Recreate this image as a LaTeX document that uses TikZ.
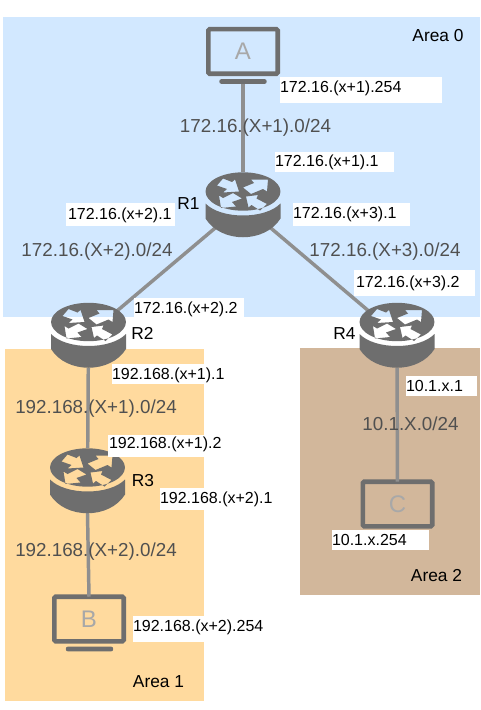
\documentclass[tikz,border=0pt]{standalone}
\usepackage{fontspec}
\setmainfont{Liberation Sans}
\usetikzlibrary{shapes.geometric}
\definecolor{areablue}{HTML}{D2E8FF}
\definecolor{areaorange}{HTML}{FFDA9E}
\definecolor{areabrown}{HTML}{D2B79B}
\definecolor{device}{HTML}{6E6E6E}
\definecolor{linkc}{HTML}{8F8F8F}
\definecolor{nettext}{HTML}{505050}
\definecolor{hostl}{HTML}{A8A8A8}
\tikzset{
  x=0.75pt,y=-0.75pt,
  link/.style={draw=linkc,line width=2.6pt},
  routerbox/.style={ellipse,minimum width=56.5pt,minimum height=49pt,inner sep=0pt,outer sep=0pt},
  hostbox/.style={rectangle,draw=device,line width=3.4pt,rounded corners=1pt,minimum width=52.1pt,minimum height=33.4pt,inner sep=0pt,outer sep=0pt,text=hostl,font=\fontsize{18}{18}\selectfont},
  hostbar/.style={rectangle,fill=device,rounded corners=1.6pt,minimum width=35.5pt,minimum height=3.6pt,inner sep=0pt,outer sep=0pt},
  addr/.style={fill=white,inner sep=0pt,outer sep=0pt,font=\fontsize{12}{14}\selectfont,text=black,anchor=north west},
  net/.style={font=\fontsize{14.1}{16}\selectfont,text=nettext,inner sep=0pt},
  lbl/.style={font=\fontsize{13}{15}\selectfont,text=black,inner sep=0pt},
  routerbody/.style={fill=device,even odd rule}
}
\newcommand{\routerglyph}[1]{%
  \begin{scope}[shift={(#1)}]
    \begin{scope}[shift={(0,-13)}]
      \fill[routerbody] (0,0) ellipse [x radius=28.1pt,y radius=14.4pt]
        (-26,-6)--(-20,-13)--(-11,-9.5)--(-8,-12)--(-4,0)--(-20,1)--(-16,-2.5)--cycle
        (0,-4)--(11,-8.5)--(8,-12)--(25,-12)--(24,0)--(20,-2.5)--(8,2.5)--cycle
        (-10,1.5)--(-1,7)--(-11,10.5)--(-7,15)--(-22,16.5)--(-24,4)--(-20,6.5)--cycle
        (3,5)--(15,3.5)--(13.5,7)--(24,12.5)--(17,19)--(8.5,13.5)--(5.5,16)--cycle;
      \fill[device] (-37.5,12) .. controls (-22,28) and (22,28) .. (37.5,12)
        -- (37.5,27) .. controls (22,52) and (-22,52) .. (-37.5,27) -- cycle;
    \end{scope}
  \end{scope}}
\newcommand{\addrlabel}[8]{%
  \node[addr,minimum width=#4*0.75pt,minimum height=#5*0.75pt] (#1) at (#2,#3)
    {\makebox[\dimexpr #4pt*3/4\relax][l]{\hspace{\dimexpr #7pt*3/4\relax}\raisebox{\dimexpr (#6pt-6.7pt)*3/4\relax}[0pt][0pt]{#8}}};}
\begin{document}
\begin{tikzpicture}
\useasboundingbox (0,0) rectangle (480,710);
% areas
\fill[areablue] (3,17) rectangle (480,317);
\fill[areaorange] (5,349) rectangle (204,701);
\fill[areabrown] (300,348) rectangle (480,595);
% devices (anchors)
\node[routerbox] (R1) at (243,204.5) {};
\node[routerbox] (R2) at (88.5,335) {};
\node[routerbox] (R3) at (87.5,480.5) {};
\node[routerbox] (R4) at (397,335) {};
\node[hostbox] (A) at (243,51.5) {A};
\node[hostbar] (Abar) at (243,81.5) {};
\node[hostbox] (B) at (89,619) {B};
\node[hostbar] (Bbar) at (89.5,649) {};
\node[hostbox] (C) at (397.5,504) {C};
% links
\draw[link] (Abar) -- (R1);
\draw[link] (R1) -- (R2);
\draw[link] (R1) -- (R4);
\draw[link] (R2) -- (R3);
\draw[link] (R3.south) -- (B.north);
\draw[link] (R4) -- (C);
% routers
\routerglyph{R1}
\routerglyph{R2}
\routerglyph{R3}
\routerglyph{R4}
% network labels
\node[net] (n1) at (255.5,127.5) {172.16.(X+1).0/24};
\node[net] (n2) at (97,251.5) {172.16.(X+2).0/24};
\node[net] (n3) at (385,251.5) {172.16.(X+3).0/24};
\node[net] (n4) at (96,408.5) {192.168.(X+1).0/24};
\node[net] (n5) at (96,551.5) {192.168.(X+2).0/24};
\node[net] (n6) at (410.5,424) {10.1.X.0/24};
% address labels
\addrlabel{a1}{280}{77}{162}{26}{4}{0}{172.16.(x+1).254}
\addrlabel{a2}{275}{152}{119}{20}{2}{0}{172.16.(x+1).1}
\addrlabel{a3}{293}{203}{117}{23}{2.5}{0}{172.16.(x+3).1}
\addrlabel{a4}{66}{203}{109}{23}{1.5}{2}{172.16.(x+2).1}
\addrlabel{a5}{354}{270}{121}{26}{2}{2}{172.16.(x+3).2}
\addrlabel{a6}{134}{298}{110}{20}{1}{0}{172.16.(x+2).2}
\addrlabel{a7}{112}{364}{112}{20}{1}{0}{192.168.(x+1).1}
\addrlabel{a8}{108}{435}{114}{22}{4}{1}{192.168.(x+1).2}
\addrlabel{a9}{160}{488}{114}{22}{2}{0}{192.168.(x+2).1}
\addrlabel{a10}{133}{616}{137}{26}{4}{0}{192.168.(x+2).254}
\addrlabel{a11}{406}{376}{71}{20}{1}{0}{10.1.x.1}
\addrlabel{a12}{332}{530}{97}{20}{1}{0}{10.1.x.254}
% names
\node[lbl] (t1) at (188.5,203.5) {R1};
\node[lbl] (t2) at (142.5,333.5) {R2};
\node[lbl] (t3) at (143,480.5) {R3};
\node[lbl] (t4) at (344.5,333.5) {R4};
\node[lbl] (z0) at (438,35.5) {Area 0};
\node[lbl] (z1) at (158.5,681.5) {Area 1};
\node[lbl] (z2) at (436.5,575.5) {Area 2};
\end{tikzpicture}
\end{document}
